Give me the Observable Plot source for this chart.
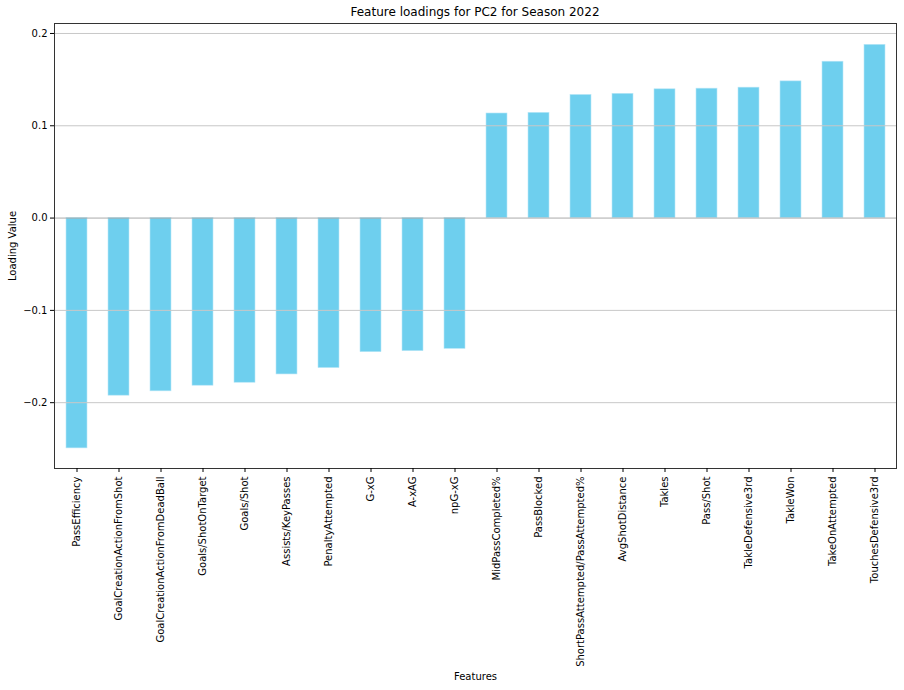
<!DOCTYPE html>
<html>
<head>
<meta charset="utf-8">
<script src="https://cdn.jsdelivr.net/npm/d3@7"></script>
<script src="https://cdn.jsdelivr.net/npm/@observablehq/plot@0.6"></script>
<style>
  body { margin: 0; background: #fff; font-family: "DejaVu Sans", sans-serif; }
  #title { height: 22px; box-sizing: border-box; padding-top: 5px; margin-left: 54px; width: 842px; text-align: center; font-size: 12px; line-height: 14px; color: #000; }
</style>
</head>
<body>
<div id="title">Feature loadings for PC2 for Season 2022</div>
<div id="chart"></div>
<script>
const features = ["PassEfficiency","GoalCreationActionFromShot","GoalCreationActionFromDeadBall","Goals/ShotOnTarget","Goals/Shot","Assists/KeyPasses","PenaltyAttempted","G-xG","A-xAG","npG-xG","MidPassCompleted%","PassBlocked","ShortPassAttempted/PassAttempted%","AvgShotDistance","Takles","Pass/Shot","TakleDefensive3rd","TakleWon","TakeOnAttempted","TouchesDefensive3rd"];
const loadings = [-0.2495,-0.1924,-0.1877,-0.1816,-0.1784,-0.1694,-0.1625,-0.1453,-0.1442,-0.1417,0.1133,0.1140,0.1334,0.1346,0.1395,0.1402,0.1413,0.1481,0.1694,0.1877];
const yTicks = [-0.2,-0.1,0.0,0.1,0.2];

const data = features.map((f, i) => ({feature: f, value: loadings[i]}));

const chart = Plot.plot({
  width: 904,
  height: 668,
  marginLeft: 54,
  marginRight: 8,
  marginTop: 1,
  marginBottom: 222,
  style: {fontFamily: "DejaVu Sans, sans-serif", fontSize: "10px", color: "#000", background: "#fff"},
  x: {domain: features, paddingInner: 0.5, paddingOuter: 0.25, align: 0.5},
  y: {domain: [-0.2713, 0.2108]},
  marks: [
    Plot.barY(data, {x: "feature", y: "value", fill: "#6ecfee", stroke: "#b8e6f7", strokeWidth: 0.6}),
    Plot.gridY(yTicks.filter(d => d !== 0), {stroke: "#c8c8c8", strokeOpacity: 1, strokeWidth: 1}),
    Plot.ruleY([0], {stroke: "#aaaaaa", strokeWidth: 1}),
    Plot.frame({stroke: "#333"}),
    Plot.axisY(yTicks, {tickFormat: d3.format(".1f"), tickSize: 4, tickPadding: 3, label: "Loading Value", labelAnchor: "center", labelArrow: "none", labelOffset: 46}),
    Plot.axisX({tickRotate: -90, tickSize: 4, tickPadding: 4, label: "Features", labelAnchor: "center", labelArrow: "none", labelOffset: 211})
  ]
});
document.getElementById("chart").appendChild(chart);
</script>
</body>
</html>
